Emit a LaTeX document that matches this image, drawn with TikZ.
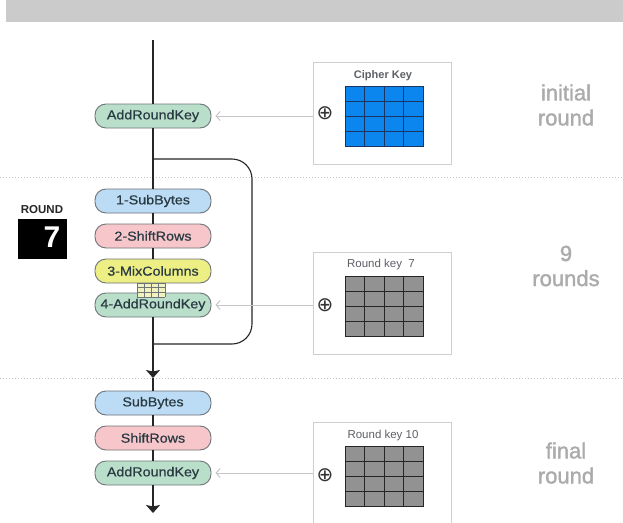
\documentclass[tikz,border=0pt]{standalone}
\usepackage{fontspec}
\setmainfont{Liberation Sans}
\newfontfamily\boxfont[FakeStretch=1.1,FakeBold=0.6]{Liberation Sans}
\newfontfamily\lblfont[FakeBold=1.5]{Liberation Sans}
\newfontfamily\symfont{DejaVu Sans}
\usetikzlibrary{arrows.meta}
\definecolor{barcol}{HTML}{CBCBCB}
\definecolor{sepcol}{HTML}{BCC6CE}
\definecolor{blu}{HTML}{BCDBF4}
\definecolor{pnk}{HTML}{F6C6CA}
\definecolor{ylw}{HTML}{EDEF85}
\definecolor{grn}{HTML}{B9DFCB}
\definecolor{bordc}{HTML}{6E7478}
\definecolor{txtc}{HTML}{2A3A42}
\definecolor{keyborder}{HTML}{CFCFCF}
\definecolor{keyarrowc}{HTML}{C6C6C6}
\definecolor{cipherblue}{HTML}{0A86EE}
\definecolor{cipherline}{HTML}{1A3560}
\definecolor{keygray}{HTML}{929292}
\definecolor{lblgray}{HTML}{ABABAB}
\definecolor{keytxt}{HTML}{5E6066}
\definecolor{smallgrid}{HTML}{F2F2C0}
\tikzset{
  stage/.style={rectangle, rounded corners=11pt, minimum width=116pt, minimum height=24pt,
    inner sep=0pt, draw=bordc, line width=0.9pt, text=txtc,
    font=\boxfont\fontsize{13}{13}\selectfont},
  flow/.style={draw=black!85, line width=1.1pt},
  flowarrow/.style={flow, -{Stealth[length=8pt,width=14pt,inset=1.5pt]}},
  keybox/.style={rectangle, draw=keyborder, line width=1pt, fill=white, minimum width=138pt, inner sep=0pt},
  keyarrow/.style={draw=keyarrowc, line width=1pt, -{Straight Barb[length=4pt,width=9pt]}, shorten >=4pt},
  keylabel/.style={text=keytxt, font=\fontsize{11.5}{11.5}\selectfont},
  xorsym/.style={inner sep=0pt, text=black!80, font=\symfont\fontsize{20}{20}\selectfont},
  roundlbl/.style={text=lblgray, align=center, font=\lblfont\fontsize{22}{25}\selectfont},
  sep/.style={draw=sepcol, line width=1pt, dotted},
  pics/keygrid/.style 2 args={code={
    \fill[#1] (0,0) rectangle (78,60);
    \foreach \i in {1,2,3} {
      \draw[#2, line width=0.9pt] (19.5*\i,0) -- (19.5*\i,60);
      \draw[#2, line width=0.9pt] (0,15*\i) -- (78,15*\i);
    }
    \draw[#2, line width=0.9pt] (0,0) rectangle (78,60);
  }}
}
\begin{document}
\begin{tikzpicture}[x=1pt,y=-1pt]
\useasboundingbox (0,0) rectangle (623,522);
\clip (0,0) rectangle (623,522);
\fill[white] (0,0) rectangle (623,522);
% top bar
\fill[barcol] (6,0) rectangle (623,22);
% separators
\draw[sep] (0,177) -- (623,177);
\draw[sep] (0,378) -- (623,378);

% stage nodes
\node[stage, fill=grn] (ark0) at (153,116) {AddRoundKey};
\node[stage, fill=blu] (sb1) at (153,201) {1-SubBytes};
\node[stage, fill=pnk] (sr1) at (153,236) {2-ShiftRows};
\node[stage, fill=ylw] (mc1) at (153,271) {3-MixColumns};
\node[stage, fill=grn] (ark1) at (153,305) {4-AddRoundKey};
\node[stage, fill=blu] (sb2) at (153,403) {SubBytes};
\node[stage, fill=pnk] (sr2) at (153,438) {ShiftRows};
\node[stage, fill=grn] (ark2) at (153,473) {AddRoundKey};

% flow coordinates
\coordinate (top) at (153,40);
\coordinate (lt) at (153,159);
\coordinate (lb) at (153,344);
\coordinate (lc) at (252,344);
\coordinate (mid) at (153,378);
\coordinate (bot) at (153,513);

\draw[flow] (top) -- (ark0);
\draw[flow] (ark0) -- (sb1);
\draw[flow] (sb1) -- (sr1);
\draw[flow] (sr1) -- (mc1);
\draw[flow] (mc1) -- (ark1);
\draw[flowarrow] (ark1) -- (mid);
\draw[flow] (mid) -- (sb2);
\draw[flow] (sb2) -- (sr2);
\draw[flow] (sr2) -- (ark2);
\draw[flowarrow] (ark2) -- (bot);
% loop back
\draw[flow, rounded corners=20pt] (lt) -| (lc) -- (lb);

% small grid under MixColumns
\fill[smallgrid] (137,283) rectangle (165,297);
\foreach \i in {0,1,2,3,4} \draw[bordc, line width=0.6pt] (137+7*\i,283) -- (137+7*\i,297);
\foreach \j in {0,1,2,3} \draw[bordc, line width=0.6pt] (137,283+4.67*\j) -- (165,283+4.67*\j);

% round indicator
\node[font=\bfseries\fontsize{11.5}{11.5}\selectfont, text=black!85] (rlbl) at (42,210) {ROUND};
\node[fill=black, minimum width=49pt, minimum height=40pt, inner sep=0pt] (rbox) at (42.5,239) {};
\node[text=white, font=\bfseries\fontsize{30}{30}\selectfont, inner sep=0pt] (r7) at (52,237) {7};

% key boxes
\node[keybox, minimum height=102pt] (k0) at (382,113) {};
\node[keybox, minimum height=102pt] (k1) at (382,303) {};
\node[keybox, minimum height=120pt] (k2) at (382,482) {};

\node[keylabel, font=\bfseries\fontsize{11}{11}\selectfont] (l0) at (383,76) {Cipher Key};
\node[keylabel] (l1) at (381,265) {Round key\ \ 7};
\node[keylabel] (l2) at (383,436) {Round key 10};

\pic at (345,86) {keygrid={cipherblue}{cipherline}};
\pic at (345,276) {keygrid={keygray}{black!85}};
\pic at (345,446) {keygrid={keygray}{black!85}};

\node[xorsym] (x0) at (325,113) {⊕};
\node[xorsym] (x1) at (325,305) {⊕};
\node[xorsym] (x2) at (325,475) {⊕};

% key arrows
\draw[keyarrow] (k0.west |- ark0) -- (ark0.east);
\draw[keyarrow] (k1.west |- ark1) -- (ark1.east);
\draw[keyarrow] (k2.west |- ark2) -- (ark2.east);

% right labels
\node[roundlbl] (t0) at (566,105) {initial\\round};
\node[roundlbl] (t1) at (566,266) {9\\rounds};
\node[roundlbl] (t2) at (566,463) {final\\round};
\end{tikzpicture}
\end{document}
